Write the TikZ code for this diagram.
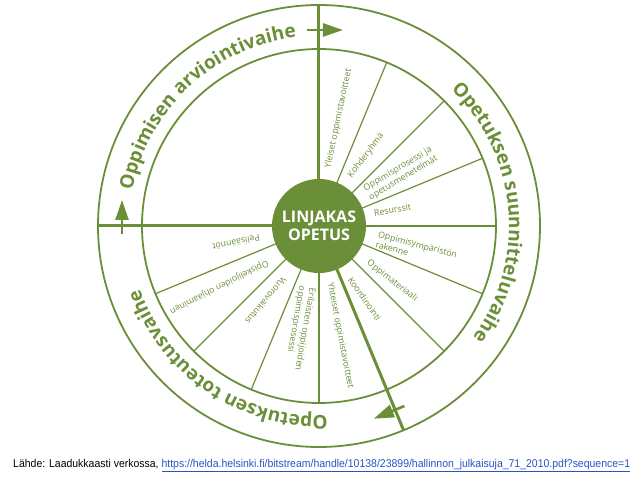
\documentclass[tikz,border=0pt]{standalone}
\usepackage{fontspec}
\usepackage{graphicx}
\setmainfont{Open Sans}
\newfontfamily\credfont{Liberation Sans}
\usetikzlibrary{decorations.text,arrows.meta}
\definecolor{lgreen}{RGB}{107,142,56}
\definecolor{linkblue}{RGB}{40,85,195}
\newcommand\ringfont{\color{lgreen}\bfseries\fontsize{19}{19}\selectfont}
\begin{document}
\begin{tikzpicture}[x=1pt,y=1pt,
  ring/.style={draw=lgreen,line width=1.8pt},
  mainspoke/.style={draw=lgreen,line width=3pt},
  subspoke/.style={draw=lgreen,line width=1.2pt},
  lbl/.style={text=lgreen,font=\fontsize{8.8}{10.5}\selectfont,anchor=west,inner sep=0pt,align=left},
  phasearrow/.style={draw=lgreen,line width=2.6pt,-{Triangle[length=20pt,width=13pt]}},
  ringtext/.style={decorate,decoration={text along path,text align=center,text={#1}}}
]
\useasboundingbox (-319,-253) rectangle (319,226);
\coordinate (c) at (0,0);
\draw[ring] (c) circle[radius=221];
\draw[ring] (c) circle[radius=177];
\foreach \a in {90,180,-67.5} \draw[mainspoke] (\a:46) -- (\a:221);
\foreach \a in {67.5,45,22.5,0,-22.5,-45,202.5,225,247.5,270} \draw[subspoke] (\a:46) -- (\a:177);
\node[circle,fill=lgreen,minimum size=94pt,inner sep=0pt,text=white,font=\bfseries\fontsize{16}{18}\selectfont,align=center] (hub) at (c) {LINJAKAS\\OPETUS};
% phase arrows
\coordinate (ta1) at (-12,196); \coordinate (ta2) at (24,196);
\draw[phasearrow] (ta1) -- (ta2);
\coordinate (la1) at (-197,-8); \coordinate (la2) at (-197,26);
\draw[phasearrow] (la1) -- (la2);
\coordinate (ba1) at (85.4,-180.0); \coordinate (ba2) at (54.9,-192.7);
\draw[phasearrow] (ba1) -- (ba2);
% ring texts
\path[ringtext={|\ringfont|Oppimisen arviointivaihe}] (193:190) arc[start angle=193,end angle=73,radius=190];
\path[ringtext={|\ringfont|Opetuksen suunnitteluvaihe}] (65:190) arc[start angle=65,end angle=-55,radius=190];
\path[ringtext={|\ringfont|Opetuksen toteutusvaihe}] (-64:190) arc[start angle=-64,end angle=-184,radius=190];
% sector labels
\node[lbl,rotate=78] (l1) at (9,58) {Yleiset oppimistavoitteet};
\node[lbl,rotate=53] (l2) at (31,49) {Kohderyhmä};
\node[lbl,rotate=31] (l3) at (48,32) {Oppimisprosessi ja\\opetusmenetelmät};
\node[lbl,rotate=10] (l4) at (55,13) {Resurssit};
\node[lbl,rotate=-15] (l5) at (58,-13) {Oppimisympäristön\\rakenne};
\node[lbl,rotate=-38] (l6) at (49,-36) {Oppimateriaali};
\node[lbl,rotate=-55] (l7) at (31,-52) {Koordinointi};
\node[lbl,rotate=190.6] (l8) at (-59,-12) {Pelisäännöt};
\node[lbl,rotate=207] (l9) at (-51,-36) {Opiskelijoiden ohjaaminen};
\node[lbl,rotate=230] (l10) at (-34,-52) {Vuorovaikutus};
\node[lbl,rotate=260] (l11) at (-12,-61) {Erilaisten oppijoiden\\oppimisprosessi};
\node[lbl,rotate=281] (l12) at (11,-57) {Yhteiset oppimistavoitteet};
% source
\node[anchor=base west,inner sep=0pt,font=\credfont\fontsize{11.3}{13}\selectfont] (src) at (-306,-241) {\resizebox{617pt}{\height}{Lähde: Laadukkaasti verkossa, \textcolor{linkblue}{\underline{https://helda.helsinki.fi/bitstream/handle/10138/23899/hallinnon\_julkaisuja\_71\_2010.pdf?sequence=1}}}};
\end{tikzpicture}
\end{document}
